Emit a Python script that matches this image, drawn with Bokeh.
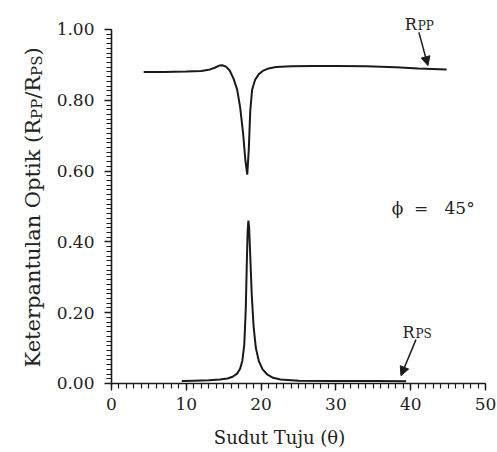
import glob
import math
from bokeh.plotting import figure
from bokeh.models import (Range1d, FixedTicker, PrintfTickFormatter, Label,
                          Arrow, NormalHead)
from bokeh.embed import file_html
from bokeh.resources import INLINE

# ---------------- data ----------------
rpp_x = [4.3, 7, 10, 12, 13, 13.8, 14.4, 14.8, 15.3, 15.8, 16.3, 16.8, 17.2, 17.6,
         17.9, 18.15, 18.35, 18.55, 18.8, 19.2, 19.7, 20.3, 21.0, 22, 24, 27, 30,
         34, 38, 41, 44.8]
rpp_y = [0.880, 0.880, 0.881, 0.883, 0.886, 0.892, 0.898, 0.899, 0.895, 0.884,
         0.862, 0.830, 0.780, 0.705, 0.630, 0.590, 0.660, 0.770, 0.830, 0.858,
         0.874, 0.884, 0.890, 0.894, 0.896, 0.897, 0.897, 0.896, 0.893, 0.890, 0.887]

rps_x = [9.4, 11, 13, 14.5, 15.5, 16.2, 16.8, 17.2, 17.5, 17.75, 17.95, 18.1, 18.2,
         18.3, 18.4, 18.55, 18.75, 19.0, 19.3, 19.7, 20.2, 20.8, 21.6, 22.6, 25, 30,
         35, 39.4]
rps_y = [0.007, 0.008, 0.009, 0.011, 0.014, 0.019, 0.028, 0.042, 0.065, 0.11, 0.21,
         0.35, 0.43, 0.46, 0.44, 0.36, 0.25, 0.16, 0.10, 0.063, 0.04, 0.026, 0.016,
         0.011, 0.008, 0.007, 0.007, 0.006]

x_major = [0, 10, 20, 30, 40, 50]
y_major = [0.0, 0.2, 0.4, 0.6, 0.8, 1.0]

FONT = "DejaVu Serif"
INK = "#1a1a1a"

# ---------------- text width helper ----------------
_EST = {"K": .75, "e": .59, "t": .40, "r": .48, "p": .64, "a": .60, "n": .64,
        "u": .64, "l": .32, " ": .32, "O": .79, "i": .32, "k": .61, "(": .39,
        "R": .73, "/": .34, ")": .39, "P": .67, "S": .69}
_font_path = None
for pat in ["/usr/share/fonts/**/DejaVuSerif.ttf", "/usr/**/DejaVuSerif.ttf"]:
    found = glob.glob(pat, recursive=True)
    if found:
        _font_path = found[0]
        break


def text_w(s, size):
    try:
        from PIL import ImageFont
        f = ImageFont.truetype(_font_path, size)
        return f.getlength(s)
    except Exception:
        return sum(_EST.get(c, 0.6) for c in s) * size


# ---------------- figure ----------------
# the frame fills the whole canvas; the axes sit at x=0 / y=0 inside it
p = figure(width=496, height=450, output_backend="svg", toolbar_location=None,
           x_range=Range1d(-14.84, 51.47), y_range=Range1d(-0.1893, 1.0819),
           min_border=0, min_border_left=0, min_border_right=0,
           min_border_top=0, min_border_bottom=0)
p.outline_line_color = None
p.xgrid.visible = False
p.ygrid.visible = False
p.background_fill_color = "white"
p.border_fill_color = "white"

p.xaxis.fixed_location = 0
p.yaxis.fixed_location = 0
p.xaxis.bounds = (0, 50)
p.yaxis.bounds = (0, 1.0)

p.xaxis.ticker = FixedTicker(ticks=x_major, minor_ticks=[i for i in range(0, 51)])
p.yaxis.ticker = FixedTicker(ticks=y_major,
                             minor_ticks=[round(i * 0.2 / 15, 5) for i in range(0, 76)])
p.yaxis.formatter = PrintfTickFormatter(format="%.2f")

for ax in (p.xaxis, p.yaxis):
    ax.axis_line_width = 1.6
    ax.axis_line_color = INK
    ax.major_tick_line_color = INK
    ax.minor_tick_line_color = INK
    ax.major_tick_line_width = 1.4
    ax.minor_tick_line_width = 1.2
    ax.major_tick_in = 0
    ax.minor_tick_in = 0
    ax.major_label_text_font = FONT
    ax.major_label_text_font_size = "17px"
    ax.major_label_text_color = "#222222"

p.xaxis.major_tick_out = 7
p.xaxis.minor_tick_out = 5
p.xaxis.major_label_standoff = 8
p.yaxis.major_tick_out = 7
p.yaxis.minor_tick_out = 5
p.yaxis.major_label_standoff = 10

p.line(rpp_x, rpp_y, line_color=INK, line_width=2)
p.line(rps_x, rps_y, line_color=INK, line_width=2)

# ---------------- axis titles (drawn as labels) ----------------
p.add_layout(Label(x=25, y=0, x_offset=-19, y_offset=-54, text="Sudut Tuju (θ)",
                   text_font=FONT, text_font_size="18px", text_align="center",
                   text_baseline="alphabetic", text_color="#222222"))

big, small = 21, 15
pieces = [("Keterpantulan Optik (R", big), ("PP", small), ("/R", big),
          ("PS", small), (")", big)]
off = 16.0
for txt, sz in pieces:
    xo = -79 if sz == big else -75
    p.add_layout(Label(x=0, y=0, x_offset=xo, y_offset=off, text=txt,
                       angle=math.pi / 2, text_font=FONT,
                       text_font_size=f"{sz}px", text_align="left",
                       text_baseline="alphabetic", text_color="#222222"))
    off += text_w(txt, sz)

# ---------------- annotations ----------------
def sub_label(x, y, main, sub, size=16, sub_size=12):
    p.add_layout(Label(x=x, y=y, text=main, text_font=FONT,
                       text_font_size=f"{size}px", text_baseline="alphabetic",
                       text_color="#222222"))
    p.add_layout(Label(x=x, y=y, x_offset=text_w(main, size) + 1, y_offset=-1,
                       text=sub, text_font=FONT, text_font_size=f"{sub_size}px",
                       text_baseline="alphabetic", text_color="#222222"))


sub_label(39.2, 1.014, "R", "PP")
p.add_layout(Arrow(x_start=41.1, y_start=0.992, x_end=42.3, y_end=0.898,
                   line_width=1.5, line_color=INK,
                   end=NormalHead(size=9, fill_color=INK, line_color=INK)))

sub_label(38.9, 0.144, "R", "PS")
p.add_layout(Arrow(x_start=40.7, y_start=0.124, x_end=38.7, y_end=0.022,
                   line_width=1.5, line_color=INK,
                   end=NormalHead(size=9, fill_color=INK, line_color=INK)))

NB = "\u00a0"
p.add_layout(Label(x=43.0, y=0.497, text="ϕ" + NB * 2 + "=" + NB * 3 + "45°",
                   text_font=FONT, text_font_size="17px", text_align="center",
                   text_baseline="alphabetic", text_color="#222222"))

open("out.html", "w").write(file_html(p, INLINE))
